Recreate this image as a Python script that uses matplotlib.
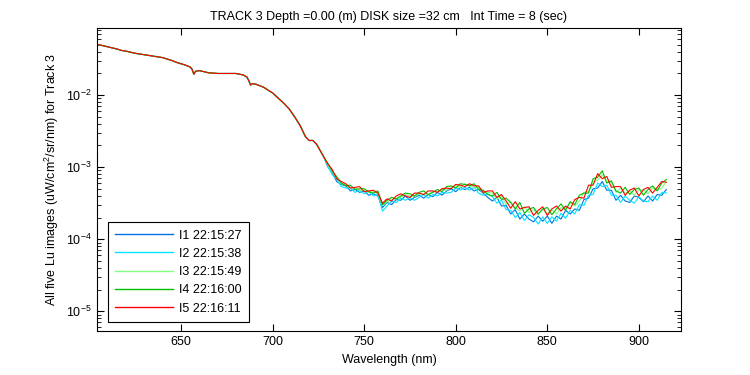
import numpy as np
import matplotlib
matplotlib.use("Agg")
import matplotlib.pyplot as plt

plt.rcParams['font.family'] = ['Liberation Sans', 'DejaVu Sans']
plt.rcParams['mathtext.fontset'] = 'custom'
plt.rcParams['mathtext.rm'] = 'Liberation Sans'
plt.rcParams['mathtext.default'] = 'regular'
plt.rcParams['font.size'] = 9

# smooth part, same for all five scans (log10 of Lu)
wl_common = [605, 610, 615, 617.5, 620, 625, 630, 635, 640, 645, 648, 652, 655, 656,
             657, 658, 660, 665, 670, 675, 680, 684, 686, 687, 688, 689, 691, 695,
             700, 703, 706, 709, 712, 715, 718, 720, 722, 724, 726, 728]
log_common = [-1.30, -1.33, -1.36, -1.38, -1.39, -1.42, -1.44, -1.46, -1.48, -1.52,
              -1.55, -1.58, -1.61, -1.64, -1.71, -1.67, -1.66, -1.69, -1.70, -1.70,
              -1.70, -1.72, -1.75, -1.80, -1.86, -1.84, -1.85, -1.89, -1.97, -2.04,
              -2.11, -2.19, -2.30, -2.42, -2.58, -2.63, -2.63, -2.68, -2.77, -2.86]

# noisy part, 730..915 nm every 2.5 nm (log10 of Lu)
wl_noisy = np.arange(730, 915.1, 2.5)
log_i1 = [-2.99, -3.07, -3.20, -3.24, -3.26, -3.33, -3.31, -3.35, -3.33, -3.39, -3.37, -3.40,
          -3.56, -3.49, -3.52, -3.45, -3.46, -3.40, -3.46, -3.42, -3.39, -3.43, -3.38, -3.41,
          -3.35, -3.39, -3.33, -3.30, -3.34, -3.28, -3.31, -3.28, -3.33, -3.31, -3.36, -3.42,
          -3.47, -3.42, -3.54, -3.53, -3.65, -3.59, -3.72, -3.65, -3.72, -3.76, -3.68, -3.75,
          -3.68, -3.78, -3.68, -3.72, -3.60, -3.65, -3.58, -3.60, -3.45, -3.43, -3.30, -3.29,
          -3.20, -3.32, -3.32, -3.46, -3.39, -3.47, -3.49, -3.40, -3.42, -3.48, -3.40, -3.47,
          -3.38, -3.39, -3.31]
log_i2 = [-2.98, -3.10, -3.17, -3.27, -3.29, -3.29, -3.35, -3.32, -3.37, -3.34, -3.40, -3.38,
          -3.61, -3.54, -3.47, -3.49, -3.43, -3.46, -3.42, -3.46, -3.42, -3.38, -3.43, -3.38,
          -3.40, -3.35, -3.36, -3.35, -3.29, -3.32, -3.28, -3.32, -3.28, -3.36, -3.39, -3.37,
          -3.41, -3.50, -3.46, -3.59, -3.60, -3.70, -3.63, -3.74, -3.66, -3.70, -3.79, -3.69,
          -3.78, -3.69, -3.75, -3.64, -3.71, -3.60, -3.65, -3.52, -3.53, -3.39, -3.38, -3.22,
          -3.27, -3.25, -3.39, -3.39, -3.49, -3.40, -3.46, -3.50, -3.41, -3.47, -3.48, -3.40,
          -3.46, -3.35, -3.36]
log_i3 = [-2.96, -3.06, -3.15, -3.23, -3.24, -3.28, -3.29, -3.32, -3.33, -3.35, -3.34, -3.37,
          -3.53, -3.48, -3.45, -3.44, -3.42, -3.38, -3.40, -3.41, -3.37, -3.37, -3.38, -3.34,
          -3.34, -3.31, -3.32, -3.28, -3.26, -3.28, -3.23, -3.26, -3.28, -3.28, -3.35, -3.35,
          -3.36, -3.44, -3.41, -3.52, -3.48, -3.56, -3.61, -3.55, -3.63, -3.59, -3.66, -3.59,
          -3.64, -3.59, -3.65, -3.56, -3.58, -3.49, -3.54, -3.47, -3.35, -3.34, -3.21, -3.18,
          -3.11, -3.20, -3.21, -3.35, -3.29, -3.36, -3.33, -3.39, -3.31, -3.32, -3.37, -3.29,
          -3.32, -3.29, -3.20]
log_i4 = [-2.94, -3.05, -3.13, -3.22, -3.26, -3.25, -3.31, -3.30, -3.30, -3.34, -3.36, -3.33,
          -3.52, -3.46, -3.42, -3.44, -3.40, -3.36, -3.37, -3.40, -3.35, -3.33, -3.38, -3.35,
          -3.31, -3.34, -3.27, -3.26, -3.29, -3.23, -3.24, -3.26, -3.23, -3.31, -3.32, -3.38,
          -3.40, -3.35, -3.45, -3.43, -3.49, -3.58, -3.49, -3.64, -3.58, -3.56, -3.65, -3.58,
          -3.56, -3.66, -3.58, -3.51, -3.60, -3.48, -3.52, -3.39, -3.36, -3.36, -3.16, -3.14,
          -3.05, -3.22, -3.19, -3.33, -3.36, -3.28, -3.38, -3.31, -3.29, -3.39, -3.31, -3.26,
          -3.33, -3.22, -3.17]
log_i5 = [-2.95, -3.03, -3.16, -3.20, -3.23, -3.29, -3.28, -3.27, -3.34, -3.33, -3.32, -3.36,
          -3.50, -3.44, -3.47, -3.40, -3.37, -3.40, -3.42, -3.36, -3.36, -3.38, -3.33, -3.33,
          -3.35, -3.30, -3.29, -3.30, -3.24, -3.25, -3.27, -3.23, -3.26, -3.26, -3.35, -3.33,
          -3.33, -3.42, -3.38, -3.47, -3.57, -3.48, -3.58, -3.56, -3.55, -3.67, -3.60, -3.55,
          -3.67, -3.58, -3.54, -3.61, -3.54, -3.58, -3.45, -3.42, -3.43, -3.25, -3.25, -3.09,
          -3.16, -3.13, -3.28, -3.27, -3.27, -3.39, -3.32, -3.29, -3.40, -3.31, -3.28, -3.36,
          -3.28, -3.20, -3.21]

labels = ['I1 22:15:27', 'I2 22:15:38', 'I3 22:15:49', 'I4 22:16:00', 'I5 22:16:11']
colors = ['#0072e6', '#00e5ff', '#80ff80', '#00c000', '#ff0000']
series = [log_i1, log_i2, log_i3, log_i4, log_i5]

fig = plt.figure(figsize=(7.5, 3.75), dpi=100)
ax = fig.add_axes([0.129, 0.117, 0.779, 0.808])

wl = np.concatenate([wl_common, wl_noisy])
for lab, col, s in zip(labels, colors, series):
    lu = 10 ** np.concatenate([log_common, s])
    ax.plot(wl, lu, color=col, lw=0.8, label=lab)

ax.set_yscale('log')
ax.set_xlim(604, 923)
ax.set_ylim(5.3e-6, 0.085)
ax.set_xticks([650, 700, 750, 800, 850, 900])
ax.tick_params(which='both', direction='in', top=True, right=True, labelsize=9)
ax.tick_params(which='major', length=5)
ax.tick_params(which='minor', length=3)
for sp in ax.spines.values():
    sp.set_linewidth(0.8)

ax.set_xlabel('Wavelength (nm)', fontsize=9)
ax.set_ylabel('All five Lu images (uW/cm$^2$/sr/nm) for Track 3', fontsize=9)
ax.set_title('TRACK 3 Depth =0.00 (m) DISK size =32 cm   Int Time = 8 (sec)', fontsize=9)

leg = ax.legend(loc='lower left', bbox_to_anchor=(0.019, 0.03), fontsize=9,
                fancybox=False, framealpha=1, edgecolor='black', borderaxespad=0,
                handlelength=4.6, handletextpad=0.5, borderpad=0.6,
                labelspacing=0.5)
leg.get_frame().set_linewidth(0.8)
for h in leg.get_lines():
    h.set_linewidth(1.0)

fig.savefig('out.png', dpi=100)
